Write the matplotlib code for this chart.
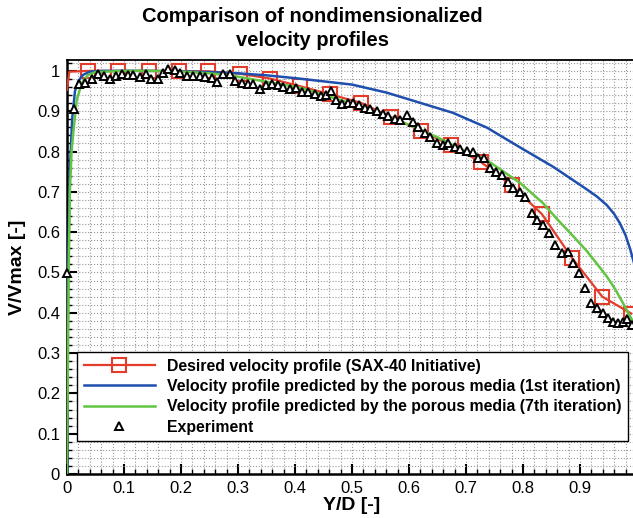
import matplotlib
matplotlib.use("Agg")
import matplotlib.pyplot as plt
from matplotlib.ticker import MultipleLocator, FormatStrFormatter

plt.rcParams['font.family'] = ['Liberation Sans', 'DejaVu Sans']

# desired profile (SAX-40 initiative), line drawn through the square markers
desired_x = [0.0, 0.004, 0.037, 0.09, 0.143, 0.196, 0.247, 0.303, 0.356, 0.409, 0.461,
             0.515, 0.568, 0.621, 0.674, 0.727, 0.78, 0.833, 0.886, 0.939, 0.99]
desired_y = [0.953, 0.998, 1.0, 1.0, 1.0, 0.999, 0.999, 0.993, 0.981, 0.962, 0.942,
             0.921, 0.886, 0.852, 0.815, 0.773, 0.716, 0.645, 0.536, 0.44, 0.398]

# porous media prediction, 1st iteration
iter1_x = [0.0, 0.002, 0.005, 0.009, 0.014, 0.02, 0.028, 0.04, 0.06, 0.1, 0.15, 0.2,
           0.25, 0.3, 0.35, 0.4, 0.444, 0.5, 0.561, 0.619, 0.677, 0.737, 0.795, 0.853,
           0.912, 0.93, 0.947, 0.96, 0.97, 0.98, 0.988, 0.995, 1.0]
iter1_y = [0.0, 0.5, 0.75, 0.88, 0.95, 0.975, 0.99, 0.998, 1.0, 1.0, 1.0, 0.999,
           0.997, 0.994, 0.989, 0.982, 0.975, 0.966, 0.946, 0.921, 0.896, 0.859, 0.81,
           0.762, 0.706, 0.688, 0.667, 0.645, 0.622, 0.592, 0.558, 0.522, 0.49]

# porous media prediction, 7th iteration
iter7_x = [0.0, 0.003, 0.005, 0.008, 0.011, 0.017, 0.026, 0.037, 0.05, 0.1, 0.15, 0.2,
           0.25, 0.29, 0.35, 0.41, 0.474, 0.53, 0.59, 0.65, 0.7, 0.737, 0.795, 0.835,
           0.86, 0.888, 0.912, 0.935, 0.947, 0.962, 0.975, 0.991, 1.0]
iter7_y = [0.0, 0.5, 0.7, 0.8, 0.846, 0.928, 0.97, 0.99, 0.997, 1.0, 1.0, 0.998,
           0.994, 0.988, 0.973, 0.958, 0.93, 0.905, 0.872, 0.835, 0.8, 0.778, 0.722,
           0.672, 0.632, 0.59, 0.553, 0.512, 0.49, 0.458, 0.425, 0.383, 0.36]

# experimental measurements
exp_x = [0.0, 0.012, 0.021, 0.032, 0.044, 0.055, 0.065, 0.075, 0.086, 0.096, 0.107,
         0.116, 0.128, 0.138, 0.147, 0.159, 0.169, 0.178, 0.19, 0.198, 0.21, 0.221,
         0.233, 0.242, 0.254, 0.263, 0.274, 0.286, 0.295, 0.307, 0.318, 0.327, 0.339,
         0.349, 0.36, 0.37, 0.379, 0.391, 0.402, 0.412, 0.423, 0.435, 0.445, 0.455,
         0.463, 0.472, 0.482, 0.493, 0.502, 0.512, 0.523, 0.532, 0.544, 0.554, 0.563,
         0.575, 0.584, 0.596, 0.607, 0.616, 0.628, 0.637, 0.649, 0.66, 0.668, 0.681,
         0.689, 0.702, 0.712, 0.721, 0.732, 0.742, 0.753, 0.763, 0.774, 0.782, 0.795,
         0.803, 0.816, 0.825, 0.835, 0.846, 0.856, 0.868, 0.879, 0.888, 0.898, 0.909,
         0.919, 0.93, 0.94, 0.949, 0.958, 0.967, 0.975, 0.982, 0.991]
exp_y = [0.499, 0.906, 0.968, 0.97, 0.98, 0.993, 0.988, 0.98, 0.988, 0.993, 0.99,
         0.99, 0.985, 0.993, 0.98, 0.98, 0.995, 1.005, 1.003, 0.995, 0.988, 0.988,
         0.988, 0.985, 0.983, 0.972, 0.992, 0.992, 0.976, 0.969, 0.968, 0.968, 0.955,
         0.966, 0.967, 0.964, 0.96, 0.955, 0.958, 0.948, 0.947, 0.943, 0.938, 0.94,
         0.95, 0.929, 0.918, 0.921, 0.921, 0.916, 0.909, 0.906, 0.901, 0.894, 0.889,
         0.881, 0.877, 0.891, 0.872, 0.86, 0.847, 0.835, 0.822, 0.815, 0.82, 0.81,
         0.807, 0.802, 0.798, 0.785, 0.785, 0.76, 0.748, 0.741, 0.724, 0.709, 0.699,
         0.686, 0.647, 0.63, 0.617, 0.597, 0.568, 0.548, 0.551, 0.523, 0.499, 0.462,
         0.425, 0.412, 0.4, 0.387, 0.378, 0.375, 0.378, 0.385, 0.37]

x_ticks = [0, 0.1, 0.2, 0.3, 0.4, 0.5, 0.6, 0.7, 0.8, 0.9]
y_ticks = [0, 0.1, 0.2, 0.3, 0.4, 0.5, 0.6, 0.7, 0.8, 0.9, 1.0]

fig = plt.figure(figsize=(6.33, 5.18), dpi=100)
ax = fig.add_axes([67 / 633, 44 / 518, 570 / 633, 414 / 518])

ax.plot(desired_x, desired_y, color='#e43c2a', lw=1.6, marker='s', markersize=10,
        markerfacecolor='none', markeredgecolor='#e43c2a', markeredgewidth=1.5,
        markevery=list(range(2, len(desired_x))),
        label='Desired velocity profile (SAX-40 Initiative)', zorder=3)
ax.plot(iter1_x, iter1_y, color='#1f4fae', lw=1.8,
        label='Velocity profile predicted by the porous media (1st iteration)', zorder=4)
ax.plot(iter7_x, iter7_y, color='#62c443', lw=1.8,
        label='Velocity profile predicted by the porous media (7th iteration)', zorder=4)
ax.plot(exp_x, exp_y, ls='none', marker='^', markersize=6, markerfacecolor='white',
        markeredgecolor='black', markeredgewidth=1.4, label='Experiment', zorder=5,
        clip_on=False)

ax.set_xlim(0, 1.0)
ax.set_ylim(0, 1.027)
ax.set_xticks(x_ticks)
ax.set_yticks(y_ticks)
ax.xaxis.set_minor_locator(MultipleLocator(0.02))
ax.yaxis.set_minor_locator(MultipleLocator(0.02))
ax.xaxis.set_major_formatter(FormatStrFormatter('%g'))
ax.yaxis.set_major_formatter(FormatStrFormatter('%g'))

ax.grid(True, which='both', color='#9a9a9a', ls=':', lw=0.8)
ax.set_axisbelow(True)

ax.tick_params(which='both', direction='in', top=False, right=False, labelsize=12)
ax.tick_params(which='major', length=7, width=1.5, pad=5)
ax.tick_params(which='minor', length=3.5, width=1.0)
for side in ['left', 'bottom']:
    ax.spines[side].set_linewidth(1.8)
ax.spines['top'].set_linewidth(1.3)
ax.spines['right'].set_visible(False)

ax.set_xlabel('Y/D [-]', fontsize=14, fontweight='bold', labelpad=1)
ax.set_ylabel('V/Vmax [-]', fontsize=14, fontweight='bold', labelpad=8)

fig.text(0.493, 1 - 7 / 518, 'Comparison of nondimensionalized\nvelocity profiles',
         ha='center', va='top', fontsize=14.5, fontweight='bold', linespacing=1.3)

leg = ax.legend(loc='upper left', bbox_to_anchor=(77 / 633, 1 - 352 / 518),
                bbox_transform=fig.transFigure, borderaxespad=0,
                prop={'weight': 'bold', 'size': 11.4}, handlelength=4.5,
                handletextpad=0.75, labelspacing=0.34, borderpad=0.42,
                fancybox=False, shadow=False, framealpha=1)
leg.get_frame().set_edgecolor('black')
leg.get_frame().set_linewidth(1.0)

fig.savefig('out.png', dpi=100)
